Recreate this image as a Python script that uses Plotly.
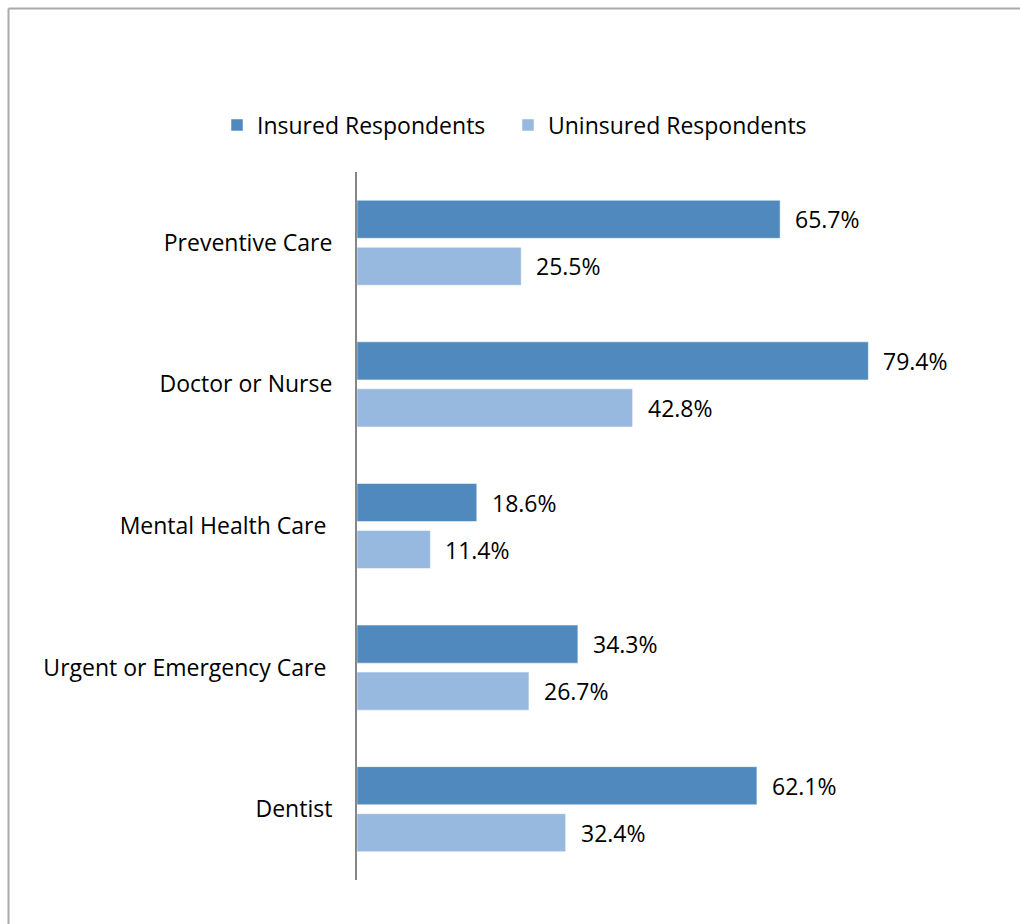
import plotly.graph_objects as go

W, H = 1020, 924

categories = ["Preventive Care", "Doctor or Nurse", "Mental Health Care\u00a0",
              "Urgent or Emergency Care\u00a0", "Dentist"]
insured = [65.7, 79.4, 18.6, 34.3, 62.1]
uninsured = [25.5, 42.8, 11.4, 26.7, 32.4]
series_names = ["Insured Respondents", "Uninsured Respondents"]

INSURED_COLOR = "#4F89BD"
UNINSURED_COLOR = "#98B9DF"
FONT = "Open Sans"
LABEL_SIZE = 23
VALUE_SIZE = 23

# plot area in pixels
px_left, px_right = 357, 1001
px_top, px_bottom = 172, 880

fig = go.Figure()
for name, vals, color, leg in [(series_names[0], insured, INSURED_COLOR, "legend"),
                               (series_names[1], uninsured, UNINSURED_COLOR, "legend2")]:
    fig.add_trace(go.Bar(
        y=categories, x=vals, name=name, orientation="h", legend=leg,
        marker=dict(color=color, line=dict(color="rgba(255,255,255,0.5)", width=1)),
        hoverinfo="skip",
    ))

# value labels to the right of each bar
for trace_idx, vals in enumerate([insured, uninsured]):
    for cat, v in zip(categories, vals):
        fig.add_annotation(
            x=v, y=cat, xref="x", yref="y",
            text=f"{v:.1f}%", showarrow=False,
            xanchor="left", xshift=13,
            yshift=23.5 if trace_idx == 0 else -23.5,
            font=dict(family=FONT, size=VALUE_SIZE, color="#000000"),
        )

# outer frame
fig.add_shape(type="line", xref="paper", yref="paper",
              x0=8.5 / W, x1=1.05, y0=1 - 8.5 / H, y1=1 - 8.5 / H,
              line=dict(color="#AAAAAA", width=2))
fig.add_shape(type="line", xref="paper", yref="paper",
              x0=8.5 / W, x1=8.5 / W, y0=1 - 8.5 / H, y1=-0.05,
              line=dict(color="#AAAAAA", width=2))

legend_common = dict(orientation="h", xanchor="left", y=1 - 125 / H, yanchor="middle",
                     font=dict(family=FONT, size=LABEL_SIZE, color="#000000"),
                     itemwidth=30, bgcolor="rgba(0,0,0,0)")

fig.update_layout(
    width=W, height=H,
    margin=dict(l=0, r=0, t=0, b=0),
    paper_bgcolor="white", plot_bgcolor="white",
    barmode="group", bargap=0.336, bargroupgap=0.19,
    font=dict(family=FONT, size=LABEL_SIZE, color="#000000"),
    showlegend=True,
    legend=dict(x=217 / W, **legend_common),
    legend2=dict(x=508 / W, **legend_common),
    xaxis=dict(domain=[px_left / W, px_right / W], range=[0, 100],
               visible=False, fixedrange=True),
    yaxis=dict(domain=[1 - px_bottom / H, 1 - px_top / H],
               autorange="reversed", showline=True, linecolor="#868686",
               linewidth=2, showgrid=False, zeroline=False, ticks="",
               ticklabelstandoff=18,
               tickfont=dict(family=FONT, size=LABEL_SIZE, color="#000000")),
)

fig.write_html("out.html")
